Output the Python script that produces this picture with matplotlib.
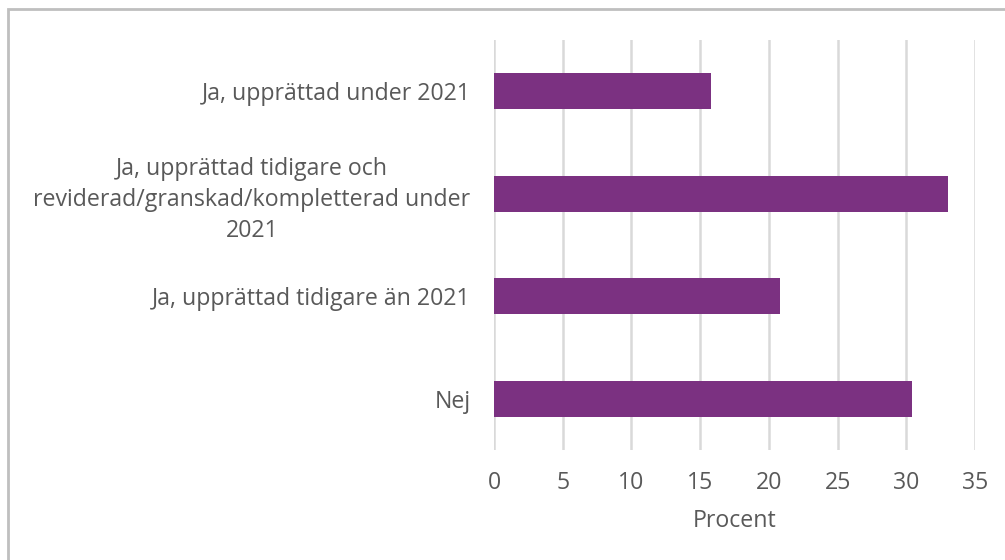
import matplotlib
matplotlib.use("Agg")
import matplotlib.pyplot as plt
from matplotlib.patches import Rectangle

categories = [
    "Ja, upprättad under 2021",
    "Ja, upprättad tidigare och\nreviderad/granskad/kompletterad under\n2021",
    "Ja, upprättad tidigare än 2021",
    "Nej",
]
values = [15.8, 33.0, 20.8, 30.4]
xticks = [0, 5, 10, 15, 20, 25, 30, 35]

bar_color = "#7B3181"
text_color = "#595959"
grid_color = "#D9D9D9"

plt.rcParams["font.family"] = ["Open Sans", "DejaVu Sans"]
FS = 16.7

W, H = 1005, 560
fig = plt.figure(figsize=(W / 100, H / 100), dpi=100)
ax = fig.add_axes([494 / W, 1 - 450 / H, (975 - 494) / W, (450 - 40) / H])

ypos = list(range(len(categories)))
ax.barh(ypos, values, height=0.35, color=bar_color, zorder=3)
ax.set_ylim(len(categories) - 0.5, -0.5)
ax.set_xlim(0, 35)
ax.set_xticks(xticks)
ax.set_xticklabels([str(t) for t in xticks])
ax.set_yticks(ypos)
ax.set_yticklabels(categories, ha="right", multialignment="center",
                   linespacing=1.38)
ax.tick_params(axis="y", length=0, pad=17)
ax.tick_params(axis="x", length=0, pad=15)
for lbl in ax.get_yticklabels() + ax.get_xticklabels():
    lbl.set_color(text_color)
    lbl.set_fontsize(FS)

ax.grid(axis="x", color=grid_color, linewidth=1.8, zorder=0)
for s in ax.spines.values():
    s.set_visible(False)

ax.set_xlabel("Procent", color=text_color, fontsize=FS, labelpad=10)

# chart frame
fig.patches.append(Rectangle((8 / W, -0.2), 1.2, 1.2 - 9 / H, transform=fig.transFigure,
                             fill=False, edgecolor="#BFBFBF", linewidth=2))

fig.savefig("out.png", dpi=100)
